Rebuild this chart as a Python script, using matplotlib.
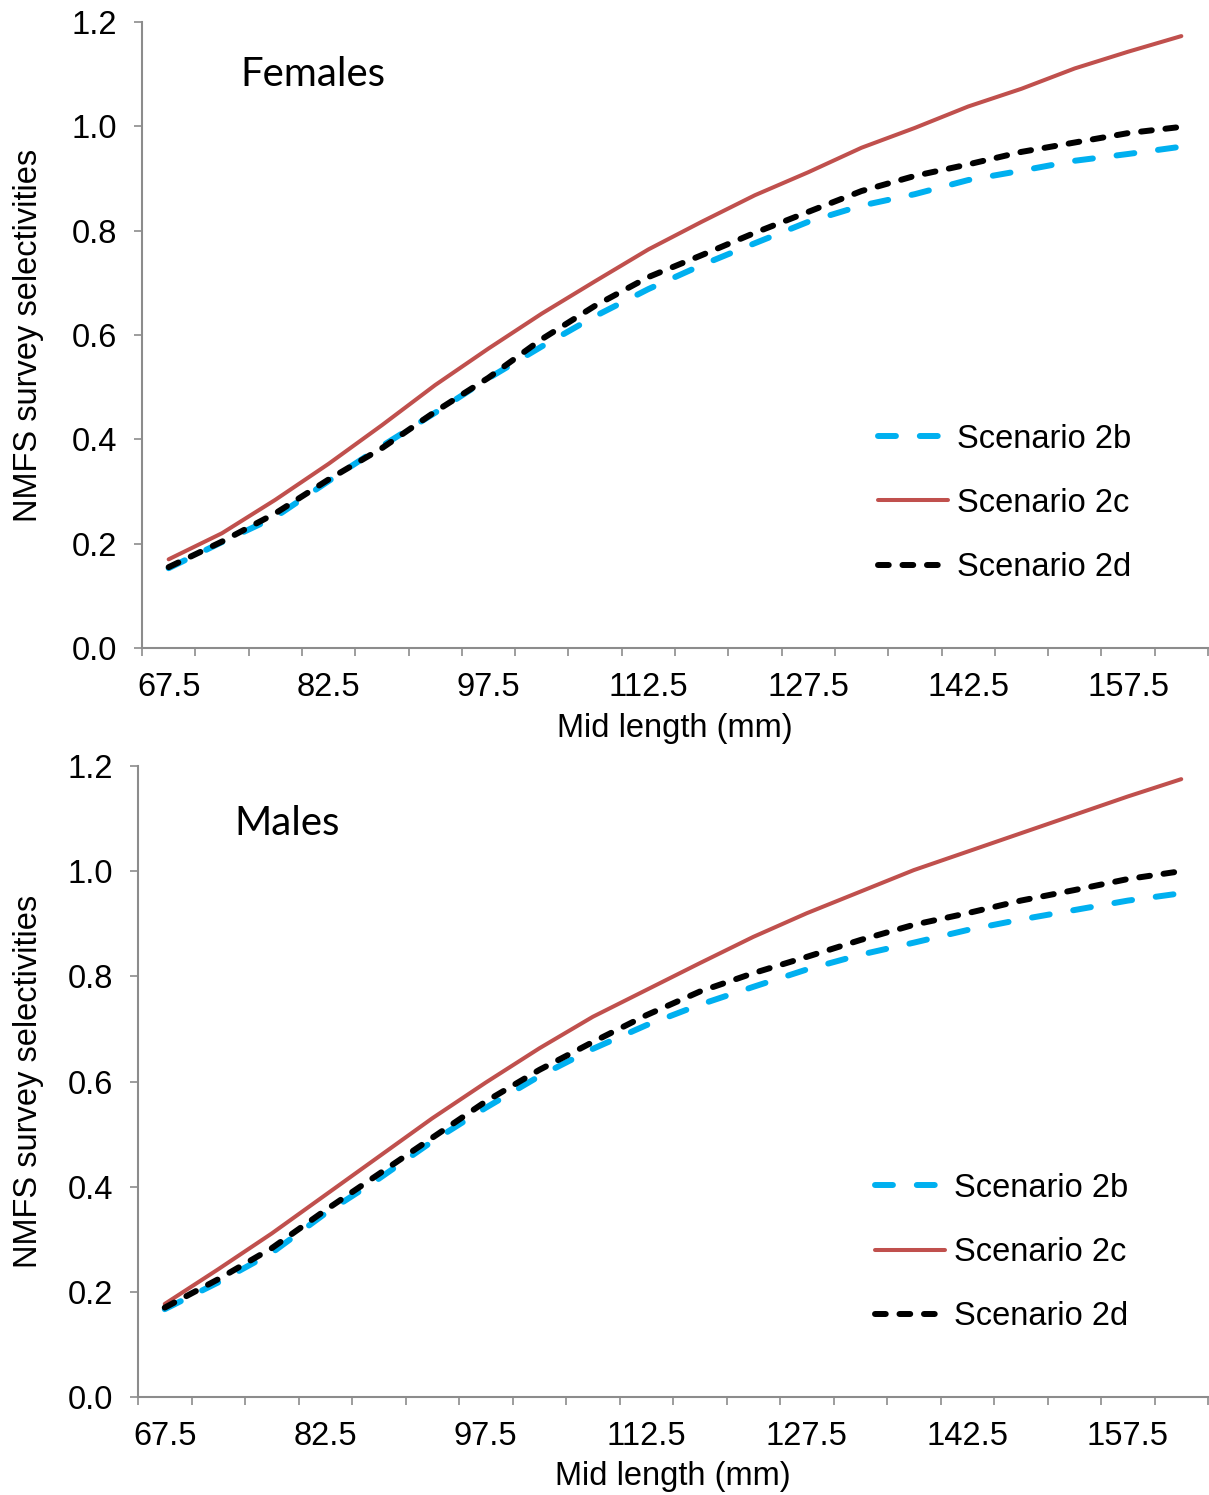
import numpy as np
import matplotlib
matplotlib.use("Agg")
import matplotlib.pyplot as plt

# ---------------------------------------------------------
# Data
# ---------------------------------------------------------
mid_length = [67.5, 72.5, 77.5, 82.5, 87.5, 92.5, 97.5, 102.5, 107.5, 112.5,
              117.5, 122.5, 127.5, 132.5, 137.5, 142.5, 147.5, 152.5, 157.5, 162.5]

females_2b = [0.153, 0.203, 0.251, 0.320, 0.387, 0.451, 0.517, 0.578, 0.636, 0.688,
              0.734, 0.776, 0.817, 0.848, 0.870, 0.897, 0.915, 0.934, 0.947, 0.961]
females_2c = [0.170, 0.220, 0.284, 0.353, 0.427, 0.504, 0.574, 0.641, 0.703, 0.764,
              0.817, 0.868, 0.912, 0.959, 0.997, 1.038, 1.072, 1.111, 1.143, 1.173]
females_2d = [0.155, 0.204, 0.258, 0.323, 0.383, 0.453, 0.518, 0.592, 0.656, 0.711,
              0.753, 0.796, 0.836, 0.876, 0.905, 0.927, 0.951, 0.969, 0.987, 0.999]

males_2b = [0.167, 0.218, 0.274, 0.349, 0.415, 0.486, 0.550, 0.610, 0.662, 0.707,
            0.746, 0.780, 0.813, 0.841, 0.864, 0.888, 0.908, 0.926, 0.944, 0.958]
males_2c = [0.177, 0.243, 0.311, 0.384, 0.457, 0.530, 0.598, 0.663, 0.723, 0.774,
            0.825, 0.875, 0.920, 0.961, 1.002, 1.037, 1.072, 1.107, 1.142, 1.175]
males_2d = [0.170, 0.224, 0.283, 0.355, 0.424, 0.493, 0.562, 0.622, 0.675, 0.726,
            0.771, 0.806, 0.837, 0.869, 0.898, 0.920, 0.944, 0.964, 0.985, 1.000]

scenario_names = ["Scenario 2b", "Scenario 2c", "Scenario 2d"]
panel_titles = ["Females", "Males"]
y_ticks = [0.0, 0.2, 0.4, 0.6, 0.8, 1.0, 1.2]

# ---------------------------------------------------------
# Style
# ---------------------------------------------------------
plt.rcParams['font.family'] = ['Liberation Sans', 'DejaVu Sans']
axis_gray = '#8c8c8c'
fs = 23.5

fig = plt.figure(figsize=(12.09, 14.95), dpi=100)
W, H = 1209, 1495

# axes rectangles in pixels: left, right, top (1.2), bottom (0.0),
# then data, title position, legend anchor (px x, axes-fraction y)
panels = [
    (142, 1208, 22, 648, females_2b, females_2c, females_2d, (240, 74), (878, 0.231)),
    (138, 1208, 766, 1397, males_2b, males_2c, males_2d, (234, 824), (875, 0.229)),
]

x = np.arange(len(mid_length))

for k, (l, r, t, b, s2b, s2c, s2d, title_xy, leg_xy) in enumerate(panels):
    ax = fig.add_axes([l / W, 1 - b / H, (r - l) / W, (b - t) / H])

    ax.plot(x, s2b, color='#00B0F0', lw=4.3, linestyle=(0, (3.0, 4.0)),
            dash_capstyle='round', label=scenario_names[0])
    ax.plot(x, s2c, color='#C0504D', lw=2.9, solid_capstyle='round',
            label=scenario_names[1])
    ax.plot(x, s2d, color='black', lw=4.3, linestyle=(0, (1.8, 2.3)),
            dash_capstyle='round', label=scenario_names[2])

    ax.set_xlim(-0.5, len(mid_length) - 0.5)
    ax.set_ylim(0, 1.2)

    # category axis: tick marks on boundaries, labels on every third centre
    ax.set_xticks(np.arange(-0.5, len(mid_length) + 0.5, 1.0))
    ax.set_xticklabels([])
    ax.tick_params(axis='x', which='major', direction='out', length=6,
                   width=1.2, color=axis_gray)
    lab_idx = x[::3]
    ax.set_xticks(lab_idx, minor=True)
    ax.set_xticklabels([str(mid_length[i]) for i in lab_idx], minor=True)
    ax.tick_params(axis='x', which='minor', length=0, pad=17, labelsize=fs)

    ax.set_yticks(y_ticks)
    ax.set_yticklabels(["%.1f" % v for v in y_ticks])
    ax.tick_params(axis='y', direction='out', length=6, width=1.2,
                   color=axis_gray, pad=12, labelsize=fs)

    for side in ['top', 'right']:
        ax.spines[side].set_visible(False)
    for side in ['left', 'bottom']:
        ax.spines[side].set_color(axis_gray)
        ax.spines[side].set_linewidth(1.5)

    ax.set_ylabel("NMFS survey selectivities", fontsize=fs)
    ax.yaxis.set_label_coords((29 - l) / (r - l), 0.5)
    ax.yaxis.label.set_va('center')
    ax.set_xlabel("Mid length (mm)", fontsize=fs)
    ax.xaxis.set_label_coords(0.5, -80 / (b - t))
    ax.xaxis.label.set_va('center')

    tx, ty = title_xy
    ax.text((tx - l) / (r - l), (b - ty) / (b - t), panel_titles[k],
            transform=ax.transAxes, fontsize=29, family=['Lato', 'DejaVu Sans'],
            ha='left', va='center')

    ax.legend(loc='center left', bbox_to_anchor=((leg_xy[0] - l) / (r - l), leg_xy[1]),
              frameon=False, fontsize=fs, handlelength=2.15,
              handletextpad=0.28, labelspacing=1.02, borderpad=0,
              borderaxespad=0)

plt.savefig('out.png', dpi=100)
plt.close()
